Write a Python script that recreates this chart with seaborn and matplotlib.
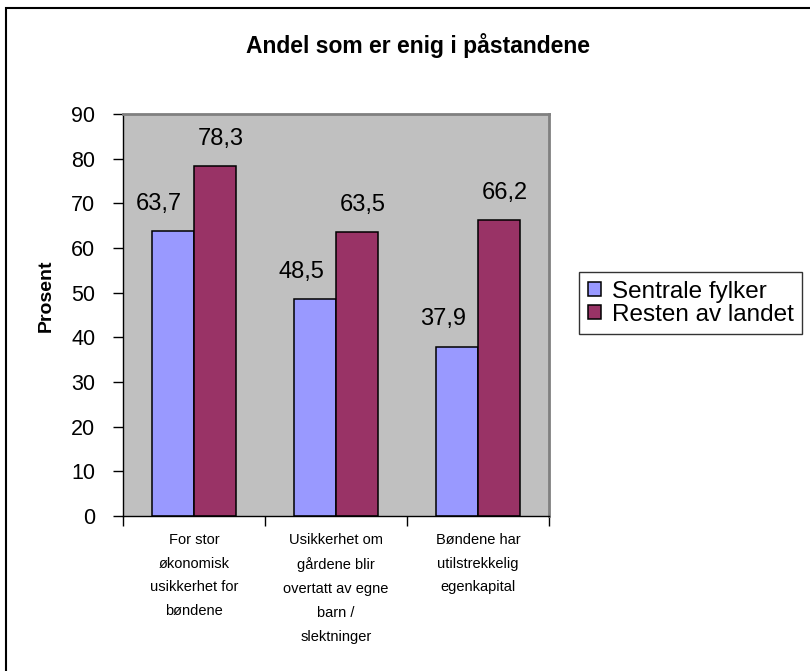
import pandas as pd
import numpy as np
import seaborn as sns
import matplotlib.pyplot as plt
from matplotlib.patches import Rectangle

# Data
categories = ['For stor\nøkonomisk\nusikkerhet for\nbøndene',
              'Usikkerhet om\ngårdene blir\novertatt av egne\nbarn /\nslektninger',
              'Bøndene har\nutilstrekkelig\negenkapital']
sentrale = [63.7, 48.5, 37.9]
resten = [78.3, 63.5, 66.2]
series = ['Sentrale fylker', 'Resten av landet']

df = pd.DataFrame({
    'kategori': categories * 2,
    'gruppe': [series[0]] * 3 + [series[1]] * 3,
    'verdi': sentrale + resten,
})

sns.set_style('white')
plt.rcParams['font.family'] = ['Liberation Sans', 'DejaVu Sans']
for key in ['text.color', 'axes.labelcolor', 'xtick.color', 'ytick.color']:
    plt.rcParams[key] = 'black'

fig = plt.figure(figsize=(8.1, 6.71), dpi=100)
ax = fig.add_axes([123 / 810, 1 - 516 / 671, 426 / 810, 402 / 671])

sns.barplot(data=df, x='kategori', y='verdi', hue='gruppe', ax=ax,
            palette=['#9999FF', '#993366'], width=0.59,
            edgecolor='black', linewidth=1.1, saturation=1)

ax.set_facecolor('#C0C0C0')
ax.set_ylim(0, 90)
ax.set_xlim(-0.5, 2.5)
ax.set_yticks(range(0, 91, 10))
ax.tick_params(axis='y', labelsize=15.5, length=7, width=1, direction='out', left=True, pad=13)
ax.set_xticks(range(3))
ax.set_xticklabels(categories, fontsize=10.5, linespacing=1.9)
ax.tick_params(axis='x', length=0, pad=12)
ax.set_xticks([-0.5, 0.5, 1.5, 2.5], minor=True)
ax.tick_params(axis='x', which='minor', length=7, width=1, bottom=True, direction='out')
ax.set_xlabel('')
ax.set_ylabel('Prosent', fontsize=14, fontweight='bold')
ax.yaxis.set_label_coords(-0.16, 0.547)

for side in ['left', 'bottom']:
    ax.spines[side].set_color('black')
    ax.spines[side].set_linewidth(1)
for side in ['top', 'right']:
    ax.spines[side].set_color('#808080')
    ax.spines[side].set_linewidth(2)

# value labels, nudged sideways like the original
offsets = [-10, 4]
for cont, dx in zip(ax.containers, offsets):
    for bar, v in zip(cont, cont.datavalues):
        ax.annotate(f'{v:.1f}'.replace('.', ','),
                    (bar.get_x() + bar.get_width() / 2, bar.get_height()),
                    xytext=(dx, 12), textcoords='offset points',
                    ha='center', va='bottom', fontsize=17)

leg = ax.legend(loc='upper left', bbox_to_anchor=(579 / 810, 1 - 272 / 671),
                bbox_transform=fig.transFigure, fontsize=17.5, frameon=True,
                fancybox=False, edgecolor='black', handlelength=0.55, handleheight=0.55,
                handletextpad=0.45, borderpad=0.35, labelspacing=0.05, borderaxespad=0)
leg.get_frame().set_linewidth(1)

fig.text(418 / 810, 1 - 46 / 671, 'Andel som er enig i påstandene',
         ha='center', va='center', fontsize=16.5, fontweight='bold')

fig.patches.append(Rectangle((6 / 810, -0.05), 1.1, 1 - 8 / 671 + 0.05,
                             transform=fig.transFigure, fill=False,
                             edgecolor='black', linewidth=1.5))

fig.savefig('out.png', dpi=100)
